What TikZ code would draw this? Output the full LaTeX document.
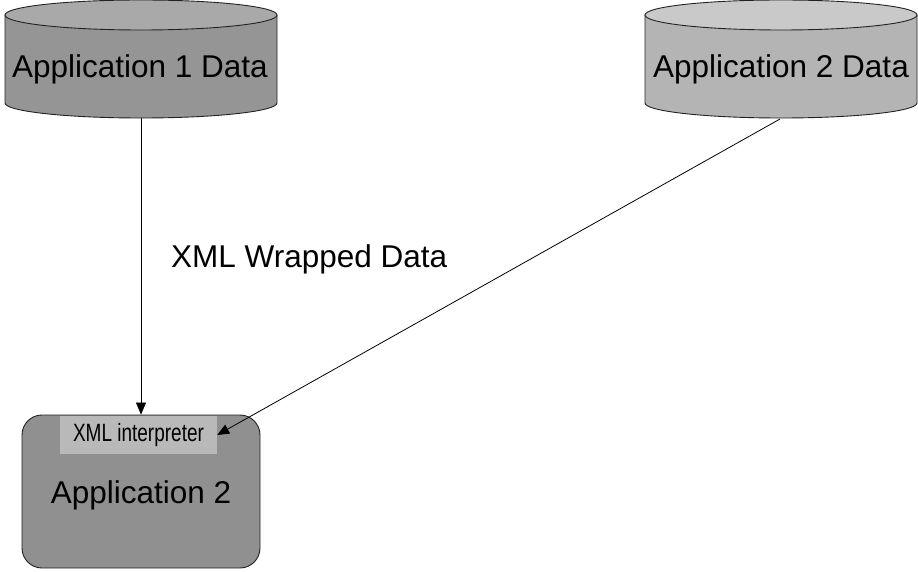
\documentclass[tikz,border=0pt]{standalone}
\usepackage{graphicx}
\usepackage{fontspec}
\setmainfont{Liberation Sans}
\usetikzlibrary{arrows.meta}
\definecolor{cAbody}{HTML}{959595}
\definecolor{cAtop}{HTML}{A9A9A9}
\definecolor{cBbody}{HTML}{B4B4B4}
\definecolor{cBtop}{HTML}{C9C9C9}
\definecolor{boxfill}{HTML}{909090}
\definecolor{labfill}{HTML}{B9B9B9}
\definecolor{edge}{HTML}{222222}
\tikzset{
  bigtext/.style={font=\fontsize{31.5}{37}\selectfont, inner sep=0pt},
  outline/.style={draw=edge, line width=0.9pt},
  appbox/.style={outline, fill=boxfill, rounded corners=20pt, minimum width=238pt, minimum height=153pt, inner sep=0pt},
  interp/.style={fill=labfill, minimum width=157pt, minimum height=38pt, inner sep=0pt},
  conn/.style={draw=black, line width=0.8pt, -{Triangle[length=12pt,width=10pt]}}
}
\begin{document}
\begin{tikzpicture}[x=1pt,y=1pt]
\useasboundingbox (0,0) rectangle (918,571);
% Cylinder 1
\filldraw[outline, fill=cAbody] (5,556) -- (5,468) arc[start angle=180,end angle=360,x radius=136pt,y radius=15pt] -- (277,556) -- cycle;
\filldraw[outline, fill=cAtop] (141,556) ellipse[x radius=136pt, y radius=15pt];
\node[bigtext, anchor=base] (t1) at (140,493) {Application 1 Data};
\coordinate (c1b) at (141,453);
% Cylinder 2
\filldraw[outline, fill=cBbody] (645,556) -- (645,468) arc[start angle=180,end angle=360,x radius=136pt,y radius=15pt] -- (917,556) -- cycle;
\filldraw[outline, fill=cBtop] (781,556) ellipse[x radius=136pt, y radius=15pt];
\node[bigtext, anchor=base] (t2) at (781,493) {Application 2 Data};
\coordinate (c2b) at (780,452);
% Application 2 box
\node[appbox] (app) at (141,79.5) {};
\node[interp] (xml) at (138.5,136) {\scalebox{0.76}[1]{\fontsize{25}{29}\selectfont XML interpreter}};
\node[bigtext, anchor=base] (app2) at (141,68) {Application 2};
% Label
\node[bigtext, anchor=base west] (wrap) at (171,303) {XML Wrapped Data};
% Connectors
\draw[conn] (c1b) -- (app.north);
\draw[conn] (c2b) -- (xml.east);
\end{tikzpicture}
\end{document}
